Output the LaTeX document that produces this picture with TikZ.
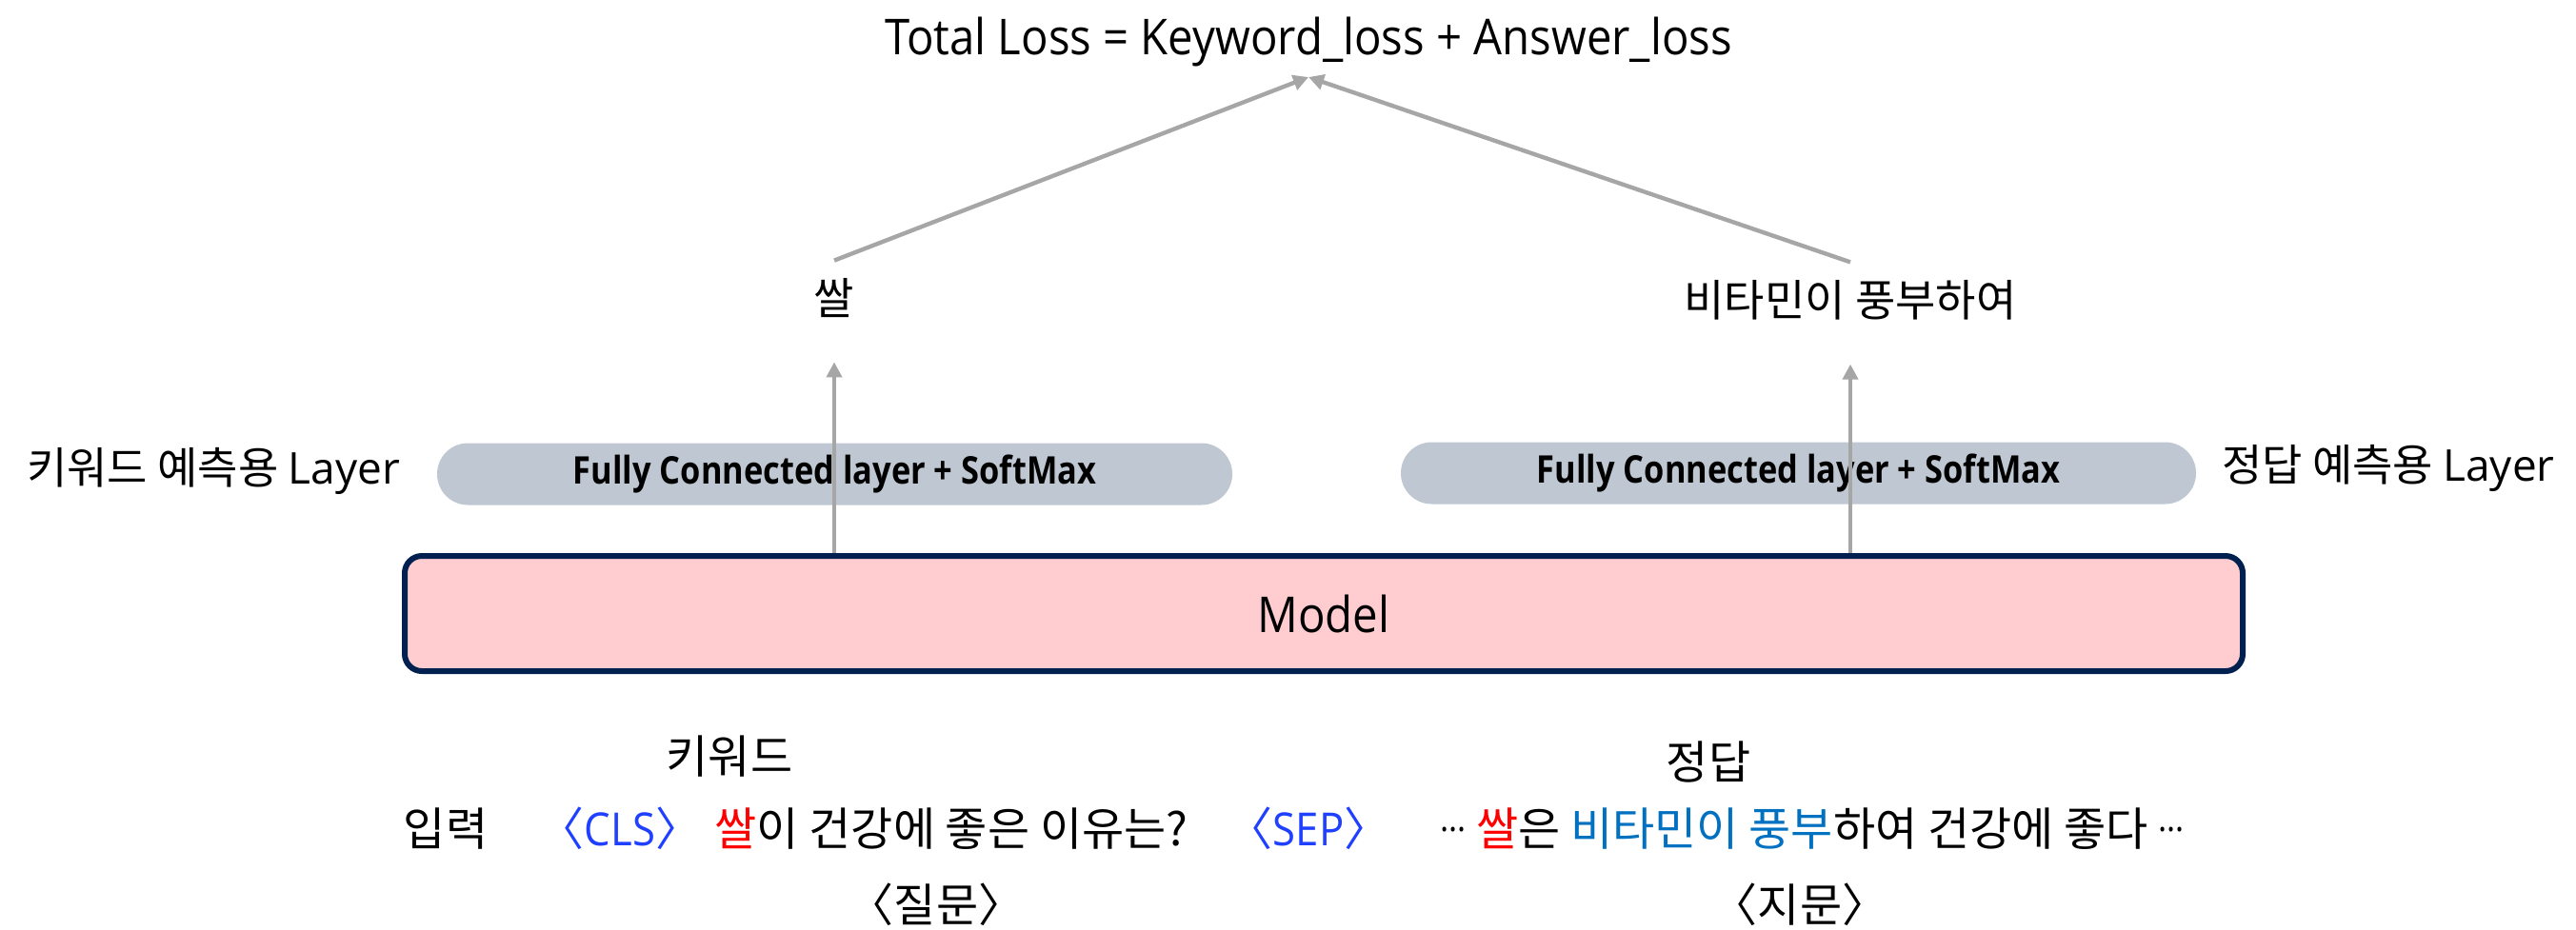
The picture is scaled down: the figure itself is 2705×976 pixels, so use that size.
\documentclass[tikz,border=0pt]{standalone}
\usepackage{fontspec}
\setmainfont{Noto Sans CJK KR}
\newfontfamily\lat{Open Sans}[FakeStretch=0.91]
\newfontfamily\latwide{Open Sans}
\newfontfamily\latsemi{Open Sans Bold}[FakeStretch=0.86]
\usetikzlibrary{arrows.meta}

\definecolor{arrowgray}{RGB}{166,166,166}
\definecolor{fcfill}{RGB}{191,199,210}
\definecolor{modelfill}{RGB}{255,204,208}
\definecolor{modeledge}{RGB}{0,32,80}
\definecolor{tokblue}{RGB}{31,64,255}
\definecolor{kwred}{RGB}{255,0,0}
\definecolor{ansblue}{RGB}{0,112,192}

\newcommand\setfs[1]{\fontsize{#1}{#1}\selectfont}
% centred ellipsis, as typed in Korean text
\newcommand\ellip{\raisebox{3.6pt}{\lat\setfs{9.5pt}…}}

\tikzset{
  txt/.style={inner sep=0pt, font=\setfs{12pt}},
  word/.style={inner sep=0pt, font=\setfs{11.5pt}},
  side/.style={inner sep=0pt, font=\setfs{11.5pt}},
  titletext/.style={inner sep=0pt, font=\lat\setfs{13pt}},
  fcbox/.style={fill=fcfill, inner sep=0pt, minimum width=208.75pt,
    minimum height=16.25pt, rounded corners=8.1pt,
    font=\latsemi\setfs{10pt}},
  modelbox/.style={draw=modeledge, line width=1.5pt, fill=modelfill,
    rounded corners=4.5pt, minimum width=482.5pt, minimum height=30.25pt,
    inner sep=0pt, font=\lat\setfs{13pt}},
  arr/.style={draw=arrowgray, line width=1.1pt,
    -{Triangle[length=4pt,width=4pt]}},
}

\begin{document}
\begin{tikzpicture}[x=0.25pt,y=-0.25pt]
\useasboundingbox (0,0) rectangle (2705,976);

% loss at the top
\node[titletext, anchor=base] (total) at (1374,57)
  {Total Loss = Keyword\_loss + Answer\_loss};
\coordinate (merge) at (1374,81);

% predicted spans
\node[word] (kw) at (876,313) {쌀};
\node[word] (ans) at (1943,315) {비타민이 풍부하여};

% prediction heads
\node[fcbox] (fcL) at (876.5,498) {Fully Connected layer + SoftMax};
\node[fcbox] (fcR) at (1888.5,497) {Fully Connected layer + SoftMax};
\node[side] (sideL) at (224,495) {키워드 예측용 {\latwide Layer}};
\node[side] (sideR) at (2508,492) {정답 예측용 {\latwide Layer}};

% encoder
\node[modelbox] (model) at (1390,644.5) {Model};

% connectors
\draw[arr] (model.north -| kw) -- ([yshift=-11.5pt]kw.south);
\draw[arr] (model.north -| ans) -- ([yshift=-11.5pt]ans.south);
\draw[arr] ([yshift=4.5pt]kw.north) -- (merge);
\draw[arr] ([yshift=4.5pt]ans.north) -- (merge);

% input sequence
\node[txt] (kwlab) at (766,795) {키워드};
\node[txt] (anslab) at (1794,800) {정답};
\node[txt, anchor=base] (inp) at (468,888) {입력};
\node[txt, anchor=base, text=tokblue] (cls) at (651,888) {〈{\lat CLS}〉};
\node[txt, anchor=base] (q) at (999,888)
  {\textcolor{kwred}{쌀}이 건강에 좋은 이유는?};
\node[txt, anchor=base, text=tokblue] (sep) at (1374,888) {〈{\lat SEP}〉};
\node[txt, anchor=base] (ctx) at (1903,888)
  {\ellip\ \textcolor{kwred}{쌀}은 \textcolor{ansblue}{비타민이 풍부}하여 건강에 좋다 \ellip};
\node[txt] (qlab) at (983,950) {〈질문〉};
\node[txt] (clab) at (1890,950) {〈지문〉};
\end{tikzpicture}
\end{document}
